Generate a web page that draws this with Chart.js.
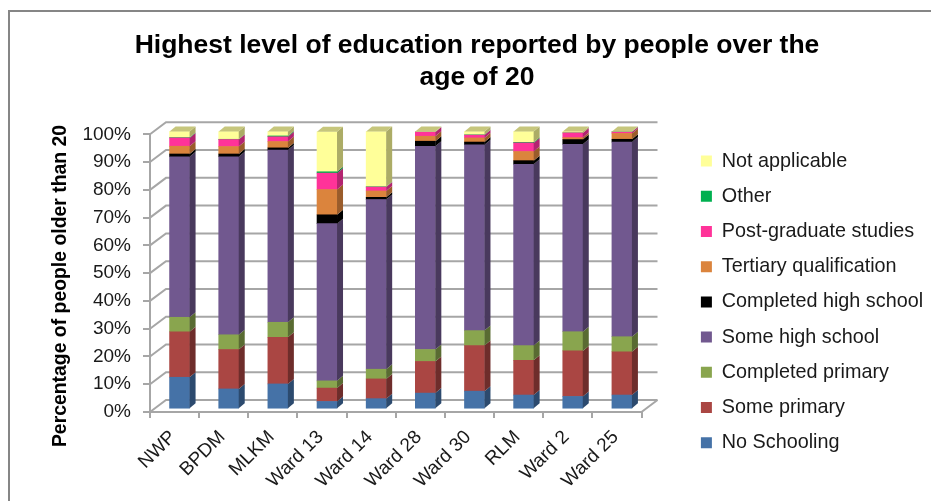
<!DOCTYPE html>
<html lang="en">
<head>
  <meta charset="UTF-8">
  <title>Highest level of education</title>
  <script src="https://cdn.jsdelivr.net/npm/chart.js"></script>
  <style>
    html, body { margin: 0; padding: 0; background: #fff; overflow: hidden; width: 931px; height: 501px; }
    #frame { position: absolute; left: 8px; top: 10px; width: 940px; height: 520px; border: 2px solid #868686; box-sizing: border-box; }
    canvas { position: absolute; left: 0; top: 0; }
  </style>
</head>
<body>
  <canvas id="chart" width="954" height="501"></canvas>
  <div id="frame"></div>

  <script>
    const categories = ["NWP", "BPDM", "MLKM", "Ward 13", "Ward 14", "Ward 28", "Ward 30", "RLM", "Ward 2", "Ward 25"];
    const noSchooling = [11.5, 7.3, 9.1, 2.8, 3.8, 5.8, 6.5, 5.1, 4.6, 5.1];
    const somePrimary = [16.4, 14.2, 16.8, 4.8, 7.1, 11.4, 16.4, 12.5, 16.4, 15.6];
    const completedPrimary = [5.2, 5.3, 5.4, 2.6, 3.5, 4.3, 5.4, 5.3, 6.9, 5.4];
    const someHighSchool = [57.8, 64.1, 62, 56.6, 61.1, 73.2, 66.9, 65.3, 67.5, 70.1];
    const completedHighSchool = [1, 1, 0.8, 3.2, 0.8, 1.8, 1, 1.3, 1.7, 1];
    const tertiary = [2.8, 2.7, 2.3, 9.1, 2.3, 1.8, 1.5, 3.3, 0.7, 2.1];
    const postGraduate = [3, 2.5, 1.7, 5.9, 1.4, 1.5, 1, 3.1, 1.7, 0.5];
    const other = [0.1, 0.1, 0.3, 0.5, 0.1, 0, 0.1, 0.2, 0, 0.1];
    const notApplicable = [2.2, 2.8, 1.6, 14.4, 19.9, 0.2, 1.2, 3.9, 0.5, 0.1];

    const seriesNames = ["No Schooling", "Some primary", "Completed primary", "Some high school", "Completed high school", "Tertiary qualification", "Post-graduate studies", "Other", "Not applicable"];
    const seriesValues = [noSchooling, somePrimary, completedPrimary, someHighSchool, completedHighSchool, tertiary, postGraduate, other, notApplicable];
    const seriesColors = ["#4572A7", "#AA4643", "#89A54E", "#71588F", "#000000", "#DB843D", "#FF3399", "#00B050", "#FFFF99"];
    const sideColors = ["#2C4A6E", "#6E2D2B", "#596B32", "#49395D", "#000000", "#9A5C2B", "#B32470", "#007B38", "#ACAC66"];
    const topColors = ["#5A86BC", "#BF5A57", "#9DB962", "#8570A3", "#222222", "#E89A58", "#FF66AD", "#20C060", "#C6C67C"];

    const gridColor = "#A6A6A6";
    const wallX = 16, wallY = 12;     // depth of the back wall
    const barX = 5, barY = 2.8;       // bars stand a little behind the front axes
    const depthX = 6, depthY = 5;     // depth of one bar

    function poly(ctx, color, pts) {
      ctx.fillStyle = color;
      ctx.beginPath();
      pts.forEach((p, i) => i ? ctx.lineTo(p[0], p[1]) : ctx.moveTo(p[0], p[1]));
      ctx.closePath();
      ctx.fill();
    }

    const fake3d = {
      id: "fake3d",
      afterLayout(chart) {
        // the layout squeezes the legend box, so give it the room it has in the original
        const l = chart.legend;
        l.left = 685.5;
        l.width = 250;
        l.right = l.left + l.width;
        l.top = chart.chartArea.top + 1.5;
        l.bottom = 501;
        l.height = l.bottom - l.top;
      },
      beforeDatasetsDraw(chart) {
        const ctx = chart.ctx, a = chart.chartArea, y = chart.scales.y;
        ctx.save();
        ctx.strokeStyle = gridColor;
        ctx.lineWidth = 2;
        y.ticks.forEach(t => {
          const py = y.getPixelForValue(t.value);
          ctx.beginPath();
          ctx.moveTo(a.left, py);
          ctx.lineTo(a.left + wallX, py - wallY);
          ctx.lineTo(a.right + wallX, py - wallY);
          ctx.stroke();
        });
        ctx.beginPath();
        ctx.moveTo(a.right, a.bottom);
        ctx.lineTo(a.right + wallX, a.bottom - wallY);
        ctx.stroke();
        ctx.restore();
        ctx.save();
        ctx.translate(barX, -barY);
      },
      afterDatasetsDraw(chart) {
        const ctx = chart.ctx;
        chart.data.datasets.forEach((ds, d) => {
          chart.getDatasetMeta(d).data.forEach(bar => {
            const r = bar.x + bar.width / 2;
            poly(ctx, sideColors[d], [[r, bar.y], [r + depthX, bar.y - depthY], [r + depthX, bar.base - depthY], [r, bar.base]]);
          });
        });
        const last = chart.data.datasets.length - 1;
        chart.getDatasetMeta(last).data.forEach(bar => {
          const l = bar.x - bar.width / 2, r = bar.x + bar.width / 2;
          poly(ctx, topColors[last], [[l, bar.y], [l + depthX, bar.y - depthY], [r + depthX, bar.y - depthY], [r, bar.y]]);
        });
        ctx.restore();
      },
      afterDraw(chart) {
        // y title sits lower than the axis middle in the original
        const ctx = chart.ctx;
        ctx.save();
        ctx.translate(61, 286);
        ctx.rotate(-Math.PI / 2);
        ctx.font = "bold 19.4px 'Liberation Sans'";
        ctx.fillStyle = "#000";
        ctx.textAlign = "center";
        ctx.textBaseline = "middle";
        ctx.fillText("Percentage of people older than 20", 0, 0);
        ctx.restore();
      }
    };

    new Chart(document.getElementById("chart"), {
      type: "bar",
      data: {
        labels: categories,
        datasets: seriesNames.map((name, i) => ({
          label: name,
          data: seriesValues[i],
          backgroundColor: seriesColors[i],
          barThickness: 20,
          clip: false
        }))
      },
      plugins: [fake3d],
      options: {
        responsive: false,
        animation: false,
        plugins: {
          title: {
            display: true,
            text: ["Highest level of education reported by people over the", "age of 20"],
            color: "#000",
            font: { family: "'Liberation Sans'", size: 26.5, weight: "bold", lineHeight: 1.2 },
            padding: { top: 30, bottom: 40.7 }
          },
          legend: {
            position: "right",
            align: "start",
            reverse: true,
            labels: {
              boxWidth: 11,
              boxHeight: 11,
              padding: 15.4,
              color: "#1a1a1a",
              font: { family: "'Liberation Sans'", size: 19.8 }
            }
          },
          tooltip: { enabled: false }
        },
        scales: {
          x: {
            stacked: true,
            afterFit(s) { s.height = 89; },
            border: { color: gridColor, width: 2 },
            grid: { drawOnChartArea: false, color: gridColor, lineWidth: 2, tickLength: 6 },
            ticks: {
              minRotation: 45,
              maxRotation: 45,
              color: "#1a1a1a",
              padding: 8,
              labelOffset: -1.5,
              font: { family: "'Liberation Sans'", size: 19 }
            }
          },
          y: {
            stacked: true,
            min: 0,
            max: 100,
            afterFit(s) { s.width = 150; },
            border: { color: gridColor, width: 2 },
            grid: { drawOnChartArea: false, color: gridColor, lineWidth: 2, tickLength: 7 },
            ticks: {
              stepSize: 10,
              color: "#1a1a1a",
              padding: 12,
              font: { family: "'Liberation Sans'", size: 19 },
              callback: v => v + "%"
            }
          },
          // empty axis only keeps room between the plot and the legend
          spacer: {
            position: "right",
            afterFit(s) { s.width = 153.5; },
            border: { display: false },
            grid: { display: false },
            ticks: { display: false }
          }
        }
      }
    });
  </script>
</body>
</html>
